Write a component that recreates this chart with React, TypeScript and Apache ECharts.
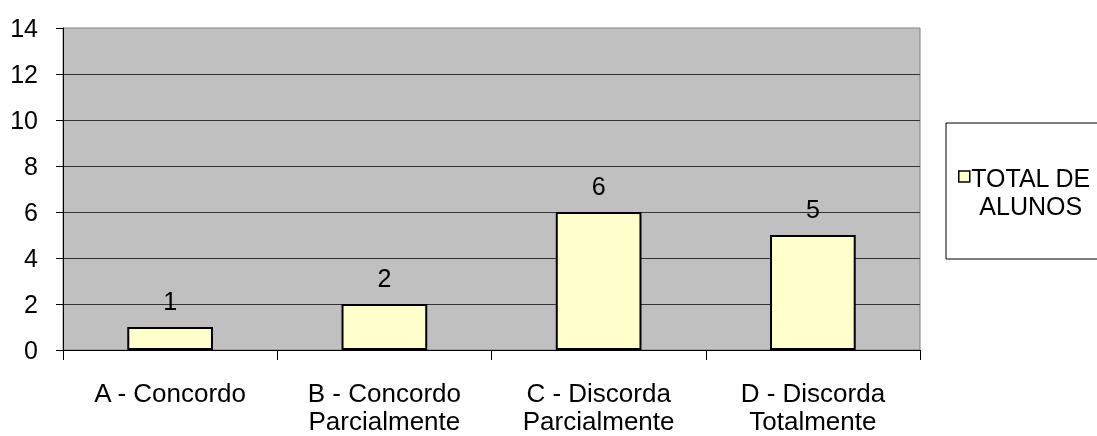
import React, { useEffect, useRef } from 'react';
import * as echarts from 'echarts';

const categories = [
  'A - Concordo',
  'B - Concordo\nParcialmente',
  'C - Discorda\nParcialmente',
  'D - Discorda\nTotalmente',
];
const values = [1, 2, 6, 5];
const seriesName = 'TOTAL DE ALUNOS';
const yMin = 0;
const yMax = 14;
const yInterval = 2;

const FONT = '"Liberation Sans", Arial, sans-serif';

export default function App() {
  const ref = useRef<HTMLDivElement>(null);

  useEffect(() => {
    if (!ref.current) return;
    const chart = echarts.init(ref.current, null, { renderer: 'svg' });
    chart.setOption({
      animation: false,
      textStyle: { fontFamily: FONT },
      grid: {
        left: 63,
        right: 177,
        top: 28,
        bottom: 86,
        show: true,
        backgroundColor: '#C0C0C0',
        borderColor: '#808080',
        borderWidth: 1,
      },
      xAxis: {
        type: 'category',
        data: categories,
        axisLine: { lineStyle: { color: '#000', width: 1 } },
        axisTick: { show: true, length: 10, lineStyle: { color: '#000' } },
        axisLabel: {
          color: '#000',
          fontSize: 26,
          lineHeight: 28,
          margin: 29,
          interval: 0,
          fontFamily: FONT,
        },
      },
      yAxis: {
        type: 'value',
        min: yMin,
        max: yMax,
        interval: yInterval,
        axisLine: { show: true, lineStyle: { color: '#000' } },
        axisTick: { show: true, length: 7, lineStyle: { color: '#000' } },
        axisLabel: { color: '#000', fontSize: 25, margin: 25, fontFamily: FONT },
        splitLine: { show: true, showMaxLine: false, lineStyle: { color: '#333', width: 1 } },
      },
      legend: {
        left: 958,
        top: 165,
        orient: 'vertical',
        padding: 0,
        itemWidth: 11,
        itemHeight: 11,
        icon: 'rect',
        z: 5,
        itemStyle: { color: '#FFFFCC', borderColor: '#000', borderWidth: 1.5 },
        formatter: (name: string) => {
          const i = name.lastIndexOf(' ');
          return '{a|' + name.slice(0, i) + '}\n{a|' + name.slice(i + 1) + '}';
        },
        textStyle: {
          fontSize: 25,
          color: '#000',
          fontFamily: FONT,
          padding: [30, 0, 0, -4],
          rich: { a: { fontSize: 25, align: 'center', lineHeight: 28, fontFamily: FONT, color: '#000' } },
        },
      },
      graphic: [
        {
          type: 'rect',
          z: 0,
          shape: { x: 946, y: 123, width: 200, height: 136 },
          style: { fill: '#fff', stroke: '#000', lineWidth: 1 },
        },
      ],
      series: [
        {
          type: 'bar',
          name: seriesName,
          data: values,
          barWidth: '40%',
          itemStyle: { color: '#FFFFCC', borderColor: '#000', borderWidth: 2 },
          label: {
            show: true,
            position: 'top',
            distance: 14,
            color: '#000',
            fontSize: 25,
            fontFamily: FONT,
          },
        },
      ],
    });
    return () => chart.dispose();
  }, []);

  return (
    <div
      ref={ref}
      style={{ position: 'fixed', left: 0, top: 0, width: 1097, height: 436 }}
    />
  );
}
